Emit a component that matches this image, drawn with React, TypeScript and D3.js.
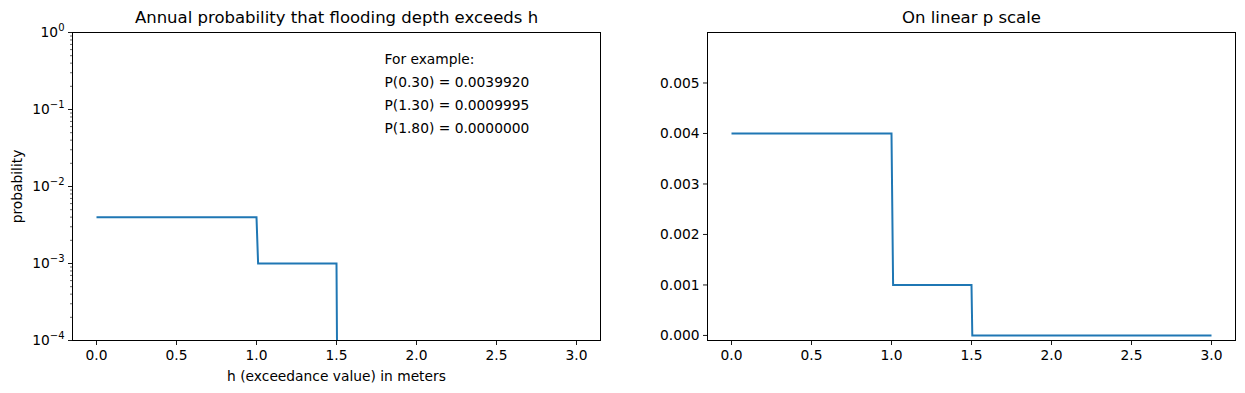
import { useEffect, useRef } from "react"
import * as d3 from "d3"

// step curve of exceedance probability vs depth
const depths = [0, 1.0, 1.01, 1.5, 1.505, 3.0]
const probs = [0.004, 0.004, 0.001, 0.001, 0, 0]

const xTicks = [0, 0.5, 1.0, 1.5, 2.0, 2.5, 3.0]
const logTicks = [0, -1, -2, -3, -4]
const linTicks = [0, 0.001, 0.002, 0.003, 0.004, 0.005]

const noteLines = [
  "For example:",
  "P(0.30) = 0.0039920",
  "P(1.30) = 0.0009995",
  "P(1.80) = 0.0000000",
]

const W = 1245
const H = 393
const FONT = "DejaVu Sans, sans-serif"
const FS = 13.8
const BLUE = "#1f77b4"

export default function App() {
  const svgRef = useRef<SVGSVGElement>(null)

  useEffect(() => {
    if (!svgRef.current) return
    document.body.style.margin = "0"
    const svg = d3.select(svgRef.current)
    svg.selectAll("*").remove()

    const top = 32.5
    const bottom = 340.5
    const panels = [
      { left: 72.5, right: 600.5, log: true, title: "Annual probability that flooding depth exceeds h" },
      { left: 707.5, right: 1235.5, log: false, title: "On linear p scale" },
    ]

    const defs = svg.append("defs")

    panels.forEach((p, idx) => {
      const x = d3.scaleLinear().domain([-0.15, 3.15]).range([p.left, p.right])
      const g = svg.append("g")

      defs.append("clipPath").attr("id", "clip" + idx)
        .append("rect")
        .attr("x", p.left).attr("y", top)
        .attr("width", p.right - p.left).attr("height", bottom - top)

      let yPos: (v: number) => number
      if (p.log) {
        const y = d3.scaleLog().domain([1e-4, 1]).range([bottom, top])
        yPos = (v) => (v > 0 ? y(v) : bottom + 50)

        // major ticks with labels
        logTicks.forEach((e) => {
          const ty = y(Math.pow(10, e))
          g.append("line").attr("x1", p.left).attr("x2", p.left - 4.5)
            .attr("y1", ty).attr("y2", ty).attr("stroke", "#000").attr("stroke-width", 0.9)
          const t = g.append("text").attr("x", p.left - 8).attr("y", ty + 4.5)
            .attr("text-anchor", "end").attr("font-family", FONT).attr("font-size", FS)
          t.append("tspan").text("10")
          t.append("tspan").attr("dy", -6.5).attr("font-size", 10).text(e === 0 ? "0" : "\u2212" + Math.abs(e))
        })
        // minor ticks
        for (let e = -4; e < 0; e++) {
          for (let k = 2; k <= 9; k++) {
            const ty = y(k * Math.pow(10, e))
            g.append("line").attr("x1", p.left).attr("x2", p.left - 2.5)
              .attr("y1", ty).attr("y2", ty).attr("stroke", "#000").attr("stroke-width", 0.6)
          }
        }
      } else {
        const y = d3.scaleLinear().domain([-0.0001, 0.006]).range([bottom, top])
        yPos = (v) => y(v)
        linTicks.forEach((v) => {
          const ty = y(v)
          g.append("line").attr("x1", p.left).attr("x2", p.left - 4.5)
            .attr("y1", ty).attr("y2", ty).attr("stroke", "#000").attr("stroke-width", 0.9)
          g.append("text").attr("x", p.left - 8).attr("y", ty + 4.8)
            .attr("text-anchor", "end").attr("font-family", FONT).attr("font-size", FS)
            .text(d3.format(".3f")(v))
        })
      }

      // x ticks
      xTicks.forEach((v) => {
        const tx = x(v)
        g.append("line").attr("x1", tx).attr("x2", tx)
          .attr("y1", bottom).attr("y2", bottom + 4.5).attr("stroke", "#000").attr("stroke-width", 0.9)
        g.append("text").attr("x", tx).attr("y", bottom + 19.5)
          .attr("text-anchor", "middle").attr("font-family", FONT).attr("font-size", FS)
          .text(d3.format(".1f")(v))
      })

      // the curve
      const line = d3.line<number>()
        .x((_, i) => x(depths[i]))
        .y((d) => yPos(d))
      g.append("path").datum(probs)
        .attr("d", line)
        .attr("fill", "none").attr("stroke", BLUE).attr("stroke-width", 2)
        .attr("clip-path", `url(#clip${idx})`)

      // frame
      g.append("rect").attr("x", p.left).attr("y", top)
        .attr("width", p.right - p.left).attr("height", bottom - top)
        .attr("fill", "none").attr("stroke", "#000").attr("stroke-width", 1)

      g.append("text").attr("x", (p.left + p.right) / 2).attr("y", 23)
        .attr("text-anchor", "middle").attr("font-family", FONT).attr("font-size", 16.5)
        .text(p.title)

      if (p.log) {
        g.append("text").attr("x", (p.left + p.right) / 2).attr("y", 381)
          .attr("text-anchor", "middle").attr("font-family", FONT).attr("font-size", FS)
          .text("h (exceedance value) in meters")
        g.append("text")
          .attr("transform", `translate(22,${(top + bottom) / 2}) rotate(-90)`)
          .attr("text-anchor", "middle").attr("font-family", FONT).attr("font-size", FS)
          .text("probability")
        noteLines.forEach((s, i) => {
          g.append("text").attr("x", x(1.8)).attr("y", 64 + i * 23)
            .attr("font-family", FONT).attr("font-size", FS)
            .text(s)
        })
      }
    })
  }, [])

  return <svg ref={svgRef} width={W} height={H} style={{ display: "block", background: "#fff" }} />
}
